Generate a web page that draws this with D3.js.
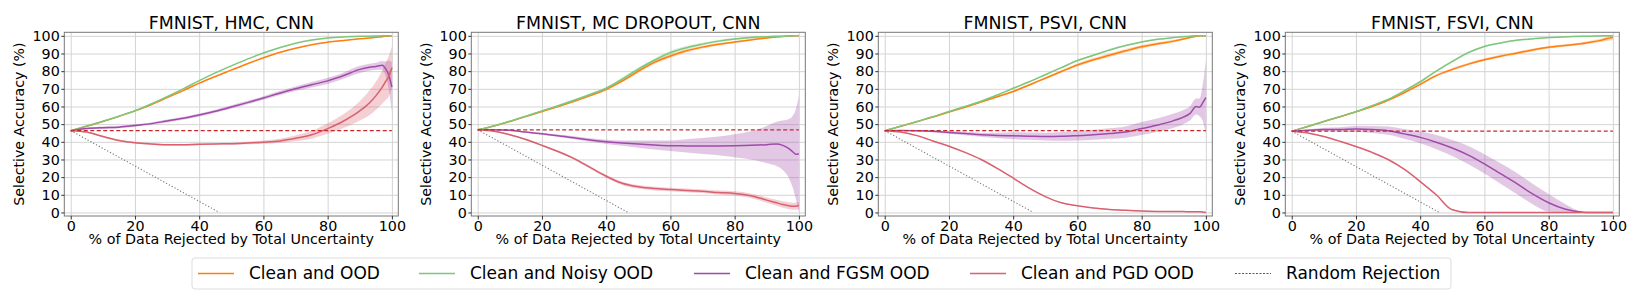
<!DOCTYPE html>
<html>
<head>
<meta charset="utf-8">
<script src="https://cdn.jsdelivr.net/npm/d3@7"></script>
<style>
  body { margin: 0; background: #fff; }
  svg { font-family: "DejaVu Sans", sans-serif; }
  .grid line { stroke: #d4d4d4; stroke-width: 1; }
  .grid path { display: none; }
  .axis path { display: none; }
  .axis line { stroke: #333; }
  .axis text { font-size: 14.3px; fill: #000; font-family: "DejaVu Sans", sans-serif; }
</style>
</head>
<body>
<svg id="chart" width="1644" height="299"></svg>
<script>
// shared rejection grid (% of data rejected)
const rejected = [0,5,10,15,20,25,30,35,40,45,50,55,60,65,70,75,80,85,90,93,95,97,98,99,100]

const titles = ["FMNIST, HMC, CNN", "FMNIST, MC DROPOUT, CNN", "FMNIST, PSVI, CNN", "FMNIST, FSVI, CNN"]
const seriesNames = ["Clean and OOD", "Clean and Noisy OOD", "Clean and FGSM OOD", "Clean and PGD OOD"]
const randomRejection = [46.3, 46.8, 46.3, 46.0]
const xTicks = [0, 20, 40, 60, 80, 100]
const yTicks = [0, 10, 20, 30, 40, 50, 60, 70, 80, 90, 100]

// HMC
const hmcOod      = [46.3,48.8,51.5,54.4,57.5,61,65,69,73.2,77,80.6,84.2,87.6,90.6,93,95,96.4,97.4,98.3,98.8,99.2,99.5,99.7,99.8,100]
const hmcOodSd    = [0,0.1,0.1,0.2,0.2,0.2,0.3,0.3,0.3,0.3,0.3,0.3,0.3,0.3,0.3,0.3,0.3,0.2,0.2,0.2,0.2,0.1,0.1,0.1,0]
const hmcNoisy    = [46.3,48.9,51.6,54.5,57.6,61.4,65.6,70,74.6,79,83,86.8,90.3,93.3,95.8,97.6,98.8,99.4,99.7,99.8,99.9,100,100,100,100]
const hmcNoisySd  = [0,0.1,0.1,0.1,0.2,0.2,0.2,0.2,0.2,0.2,0.2,0.2,0.2,0.2,0.2,0.2,0.1,0.1,0.1,0.1,0.1,0,0,0,0]
const hmcFgsm     = [46.3,47.5,48,48.3,49.2,50.3,51.8,53.3,55.2,57.3,59.7,62.2,64.8,67.5,70,72.3,74.5,77.5,81,82.2,82.7,83.3,81.5,78,71]
const hmcFgsmSd   = [0,0.5,0.6,0.6,0.7,0.7,0.8,0.8,0.9,0.9,1,1,1,1.2,1.3,1.5,1.7,1.8,2,2,2,2.5,4,8,14]
const hmcPgd      = [46.3,45.5,43,40.8,39.5,38.8,38.3,38.3,38.6,38.8,38.9,39.3,39.8,40.5,42,44,47.5,51.8,57.5,62,66,71,74,77,82]
const hmcPgdSd    = [0,0.3,0.5,0.5,0.5,0.5,0.5,0.5,0.5,0.5,0.6,0.7,0.9,1.2,1.6,2.2,3,4,5.5,7,8,9.5,10.5,11.5,12]

// MC dropout
const mcdOod      = [46.8,49,51.5,54.3,57.2,60,63,66.2,69.7,74.5,80,85,88.6,91.5,93.6,95.2,96.5,97.7,98.8,99.3,99.6,99.9,100,100,100]
const mcdOodSd    = [0,0.2,0.3,0.3,0.4,0.5,0.6,0.7,0.8,0.9,1,1,1,0.9,0.8,0.7,0.6,0.5,0.4,0.3,0.3,0.2,0.2,0.1,0]
const mcdNoisy    = [46.8,49,51.6,54.5,57.5,60.4,63.5,66.8,70.3,75.5,81.2,86.2,90.5,93.3,95.3,97,98.2,99,99.5,99.7,99.8,99.9,100,100,100]
const mcdNoisySd  = [0,0.2,0.3,0.3,0.4,0.5,0.6,0.7,0.8,0.9,1,1,1,0.9,0.8,0.7,0.6,0.5,0.4,0.3,0.3,0.2,0.2,0.1,0]
const mcdFgsm     = [46.8,46.8,46.5,45.5,44.5,43.5,42.3,41,40,39.3,38.7,38.2,37.8,37.7,37.6,37.7,37.8,38,38.4,38.8,38,36,34.5,33,33.3]
const mcdFgsmSd   = [0,0.2,0.3,0.4,0.5,0.6,0.8,1,1.2,1.5,2,2.5,3,3.8,4.5,5.3,6.5,8,10.5,12.5,14,17,20,25,33]
const mcdPgd      = [46.8,46,44,41.3,38,34.5,30.5,25.5,20.5,16.5,14.5,13.5,13,12.5,12,11.3,10.8,9.5,7,5.5,4.5,3.8,3.5,3.5,4]
const mcdPgdSd    = [0,0.3,0.4,0.5,0.5,0.6,0.6,0.7,0.8,0.9,1,1,1,1,1,1.1,1.2,1.3,1.5,1.7,1.8,2,2,2,2]

// PSVI
const psviOod     = [46.3,48.8,51.4,54,56.8,59.6,62.5,65.5,68.5,72.2,76,79.8,83.5,86.5,89,91.5,93.8,95.5,97,98.2,99,99.7,100,100,100]
const psviOodSd   = [0,0.2,0.2,0.3,0.3,0.4,0.4,0.5,0.5,0.6,0.6,0.7,0.8,0.9,1,1,1,0.9,0.8,0.6,0.5,0.3,0.2,0.1,0]
const psviNoisy   = [46.3,48.8,51.5,54.2,57.2,60,63,66.5,70.3,74,78,82,86,89,92,94.5,96.5,98,99,99.5,99.8,100,100,100,100]
const psviNoisySd = [0,0.2,0.2,0.3,0.3,0.3,0.4,0.4,0.4,0.5,0.5,0.5,0.5,0.5,0.5,0.4,0.4,0.3,0.2,0.2,0.1,0.1,0,0,0]
const psviFgsm    = [46.3,46.4,46.3,46,45.3,44.7,44,43.6,43.4,43.2,43,43.1,43.5,44,44.7,45.5,47.5,49.5,52,54,56,60,59.5,62,65]
const psviFgsmSd  = [0,0.3,0.4,0.6,0.8,1,1.2,1.5,2,2.1,2.2,2.5,2.7,2.8,3,3.2,3.7,3.8,4,4,4,4.5,5,10,21]
const psviPgd     = [46.3,45.5,43.5,40.5,37.5,34,30,25,19.5,13.8,9,5.5,3.8,2.5,1.7,1.2,0.8,0.6,0.5,0.5,0.4,0.4,0.4,0.3,0]
const psviPgdSd   = [0,0.2,0.2,0.3,0.3,0.3,0.3,0.3,0.3,0.3,0.3,0.3,0.2,0.2,0.2,0.2,0.2,0.2,0.2,0.2,0.2,0.2,0.2,0.2,0.2]

// FSVI
const fsviOod     = [46,48.7,51.5,54.2,57,60,63.5,67.8,72.5,77.5,81,84,86.5,88.5,90.2,92,93.5,94.5,95.5,96.4,97,97.8,98.3,98.7,99]
const fsviOodSd   = [0,0.2,0.2,0.3,0.3,0.4,0.4,0.5,0.6,0.7,0.8,0.8,0.8,0.8,0.8,0.8,0.7,0.7,0.7,0.8,0.9,1,1.2,1.4,1.5]
const fsviNoisy   = [46,48.7,51.5,54.2,57,60.5,64,68.8,74,80,85.5,90.5,94,96,97.5,98.3,99,99.4,99.7,99.8,99.9,100,100,100,100]
const fsviNoisySd = [0,0.2,0.2,0.3,0.3,0.3,0.4,0.4,0.5,0.5,0.6,0.6,0.5,0.4,0.4,0.3,0.3,0.2,0.2,0.2,0.2,0.2,0.3,0.4,0.5]
const fsviFgsm    = [46,46.5,47,47,47.2,47,46.3,44.5,42.5,39.8,36.5,32.5,27.5,22,16.5,10.5,5.5,2,0.3,0,0,0,0,0,0]
const fsviFgsmSd  = [0,0.5,1,1.3,1.7,2,2.3,2.8,3.3,4,4.5,5.2,5.5,5.8,6,5.8,5,3,0.3,0,0,0,0,0,0]
const fsviPgd     = [46,45,43,40.3,37.3,34,30,24.5,17.5,10,1.5,0,0,0,0,0,0,0,0,0,0,0,0,0,0]
const fsviPgdSd   = [0,0.2,0.2,0.2,0.2,0.2,0.2,0.2,0.2,0.2,0.2,0,0,0,0,0,0,0,0,0,0,0,0,0,0]

const panels = [
    [[hmcOod, hmcOodSd], [hmcNoisy, hmcNoisySd], [hmcFgsm, hmcFgsmSd], [hmcPgd, hmcPgdSd]],
    [[mcdOod, mcdOodSd], [mcdNoisy, mcdNoisySd], [mcdFgsm, mcdFgsmSd], [mcdPgd, mcdPgdSd]],
    [[psviOod, psviOodSd], [psviNoisy, psviNoisySd], [psviFgsm, psviFgsmSd], [psviPgd, psviPgdSd]],
    [[fsviOod, fsviOodSd], [fsviNoisy, fsviNoisySd], [fsviFgsm, fsviFgsmSd], [fsviPgd, fsviPgdSd]]
]

const colors = ["#ff7f0e", "#7cc77c", "#a04aaa", "#d9606f"]
const randomColor = "#c62828"

var svg = d3.select("#chart")
var plotW = 334, plotH = 183.7, plotTop = 32.3, step = 407

var xScale = d3.scaleLinear().domain([-2, 102]).range([0, plotW])
var yScale = d3.scaleLinear().domain([-2, 102]).range([plotH, 0])

panels.forEach(function(panel, p) {
    var g = svg.append("g").attr("transform", `translate(${64.3 + p*step},${plotTop})`)

    g.append("g").attr("class", "grid")
        .call(d3.axisLeft(yScale).tickValues(yTicks).tickSize(-plotW).tickFormat(""))
    g.append("g").attr("class", "grid").attr("transform", `translate(0,${plotH})`)
        .call(d3.axisBottom(xScale).tickValues(xTicks).tickSize(-plotH).tickFormat(""))

    // bands first, then lines
    panel.forEach(function(s, k) {
        var vals = s[0], sd = s[1]
        var pts = rejected.map((x, i) => ({x: x, lo: Math.max(0, vals[i]-sd[i]), hi: Math.min(100, vals[i]+sd[i])}))
        var area = d3.area().x(d => xScale(d.x)).y0(d => yScale(d.lo)).y1(d => yScale(d.hi)).curve(d3.curveMonotoneX)
        g.append("path").datum(pts).attr("d", area)
            .style("fill", colors[k]).style("opacity", 0.3)
    })

    // diagonal reference line
    var base = randomRejection[p]
    g.append("path").datum([[0, base], [base, 0]])
        .attr("d", d3.line().x(d => xScale(d[0])).y(d => yScale(d[1])))
        .style("stroke", "#777").style("stroke-width", 1.1).style("stroke-dasharray", "1.2,2").style("fill", "none")

    panel.forEach(function(s, k) {
        var vals = s[0]
        var line = d3.line().x((d, i) => xScale(rejected[i])).y(d => yScale(d)).curve(d3.curveMonotoneX)
        g.append("path").datum(vals).attr("d", line)
            .style("fill", "none").style("stroke", colors[k]).style("stroke-width", 1.5)
    })

    g.append("path").datum([[0, base], [100, base]])
        .attr("d", d3.line().x(d => xScale(d[0])).y(d => yScale(d[1])))
        .style("stroke", randomColor).style("stroke-width", 1.3).style("stroke-dasharray", "4,2.5").style("fill", "none")

    g.append("rect").attr("width", plotW).attr("height", plotH)
        .style("fill", "none").style("stroke", "#777").style("stroke-width", 1)

    g.append("g").attr("class", "axis").call(d3.axisLeft(yScale).tickValues(yTicks).tickSize(3).tickPadding(1.5))
    g.append("g").attr("class", "axis").attr("transform", `translate(0,${plotH})`)
        .call(d3.axisBottom(xScale).tickValues(xTicks).tickSize(3.5).tickPadding(1.5))

    g.append("text").attr("x", plotW/2).attr("y", 29 - plotTop)
        .attr("text-anchor", "middle").style("font-size", "17.4px").text(titles[p])

    g.append("text").attr("x", plotW/2).attr("y", 244 - plotTop)
        .attr("text-anchor", "middle").style("font-size", "14.3px")
        .text("% of Data Rejected by Total Uncertainty")

    g.append("text").attr("transform", `translate(${-40.5},${plotH/2}) rotate(-90)`)
        .attr("text-anchor", "middle").style("font-size", "14.2px")
        .text("Selective Accuracy (%)")
})

// legend
var legendX = [198, 419, 694, 970, 1235]
var lg = svg.append("g")
lg.append("rect").attr("x", 192).attr("y", 258).attr("width", 1259).attr("height", 31).attr("rx", 3)
    .style("fill", "#fff").style("stroke", "#ddd")
seriesNames.concat(["Random Rejection"]).forEach(function(name, k) {
    var x0 = legendX[k]
    lg.append("line").attr("x1", x0).attr("x2", x0 + 36).attr("y1", 273.5).attr("y2", 273.5)
        .style("stroke", k < 4 ? colors[k] : randomColor).style("stroke-width", k < 4 ? 1.5 : 1)
        .style("stroke-dasharray", k < 4 ? null : "2,1.5")
    lg.append("text").attr("x", x0 + 51).attr("y", 279).style("font-size", "17px").text(name)
})
</script>
</body>
</html>
